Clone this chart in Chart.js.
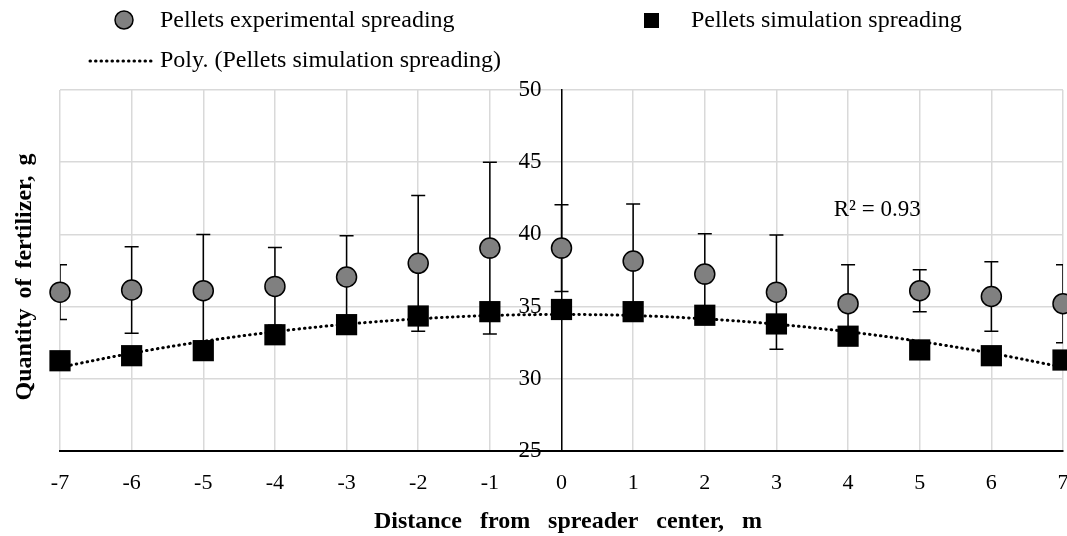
<!DOCTYPE html>
<html>
<head>
<meta charset="utf-8">
<script src="https://cdn.jsdelivr.net/npm/chart.js@4/dist/chart.umd.min.js"></script>
<style>
    html, body { margin: 0; background: #fff; overflow: hidden; }
    #wrap { width: 1067px; height: 536px; overflow: hidden; }
</style>
</head>
<body>
<div id="wrap"><canvas id="spreadChart" width="1078" height="536"></canvas></div>
<script>
// distance from spreader center, m
const distances = [-7, -6, -5, -4, -3, -2, -1, 0, 1, 2, 3, 4, 5, 6, 7];
// experimental spreading (mean) and its error (+/-)
const expValues = [36.0, 36.15, 36.1, 36.4, 37.05, 38.0, 39.05, 39.05, 38.15, 37.25, 36.0, 35.2, 36.1, 35.7, 35.2];
const expErrors = [1.9, 3.0, 3.9, 2.7, 2.85, 4.7, 5.95, 3.0, 3.95, 2.8, 3.95, 2.7, 1.45, 2.4, 2.7];
// simulation spreading
const simValues = [31.25, 31.6, 31.95, 33.05, 33.75, 34.35, 34.65, 34.8, 34.65, 34.4, 33.8, 32.95, 32.0, 31.6, 31.3];
// poly trendline
const polyValues = [30.8, 31.77, 32.59, 33.26, 33.78, 34.15, 34.38, 34.45, 34.38, 34.15, 33.78, 33.26, 32.59, 31.77, 30.8];
const yTicks = [25, 30, 35, 40, 45, 50];
const r2Label = "R\u00B2 = 0.93";
const r2At = { x: 3.8, y: 41.7 };
const xTitle = 'Distance from spreader center, m';
const yTitle = 'Quantity of fertilizer, g';

const serif = '"Liberation Serif", "Times New Roman", serif';
const gridColor = '#d9d9d9';

const toPoints = (vals) => vals.map((v, i) => ({ x: distances[i], y: v }));

const errorBars = {
    id: 'errorBars',
    beforeDatasetsDraw(chart) {
        const { ctx, chartArea, scales } = chart;
        ctx.save();
        ctx.beginPath();
        ctx.rect(chartArea.left, chartArea.top, chartArea.right - chartArea.left, chartArea.bottom - chartArea.top);
        ctx.clip();
        ctx.strokeStyle = '#000';
        ctx.lineWidth = 1.5;
        distances.forEach((d, i) => {
            const px = scales.x.getPixelForValue(d);
            const top = scales.y.getPixelForValue(expValues[i] + expErrors[i]);
            const bot = scales.y.getPixelForValue(expValues[i] - expErrors[i]);
            ctx.beginPath();
            ctx.moveTo(px, top); ctx.lineTo(px, bot);
            ctx.moveTo(px - 7, top); ctx.lineTo(px + 7, top);
            ctx.moveTo(px - 7, bot); ctx.lineTo(px + 7, bot);
            ctx.stroke();
        });
        ctx.restore();
    }
};

const extras = {
    id: 'extras',
    afterDraw(chart) {
        const { ctx, scales } = chart;

        // y tick labels, left of the centre axis
        const axisX = scales.x.getPixelForValue(0);
        ctx.save();
        ctx.fillStyle = '#000';
        ctx.font = '23px ' + serif;
        ctx.textAlign = 'right';
        ctx.textBaseline = 'middle';
        scales.y.ticks.forEach(t => {
            ctx.fillText(String(t.value), axisX - 20, scales.y.getPixelForValue(t.value));
        });
        ctx.restore();

        // axis titles
        ctx.save();
        ctx.fillStyle = '#000';
        ctx.font = 'bold 24px ' + serif;
        ctx.textAlign = 'center';
        ctx.textBaseline = 'middle';
        ctx.wordSpacing = '12px';
        ctx.fillText(xTitle, 568, 522);
        ctx.wordSpacing = '4px';
        ctx.translate(25, 277);
        ctx.rotate(-Math.PI / 2);
        ctx.fillText(yTitle, 0, 0);
        ctx.restore();

        // R2 annotation
        ctx.save();
        ctx.fillStyle = '#000';
        ctx.font = '23px ' + serif;
        ctx.textAlign = 'left';
        ctx.textBaseline = 'middle';
        ctx.fillText(r2Label, scales.x.getPixelForValue(r2At.x), scales.y.getPixelForValue(r2At.y));
        ctx.restore();

        // legend
        const ds = chart.data.datasets;
        ctx.save();
        ctx.font = '24px ' + serif;
        ctx.textAlign = 'left';
        ctx.textBaseline = 'middle';
        ctx.lineWidth = 1.5;
        ctx.beginPath();
        ctx.arc(124, 20, 9, 0, Math.PI * 2);
        ctx.fillStyle = ds[0].backgroundColor;
        ctx.fill();
        ctx.strokeStyle = ds[0].borderColor;
        ctx.stroke();
        ctx.fillStyle = '#000';
        ctx.fillText(ds[0].label, 160, 21);
        ctx.fillStyle = ds[1].backgroundColor;
        ctx.fillRect(644, 13, 15, 15);
        ctx.fillStyle = '#000';
        ctx.fillText(ds[1].label, 691, 21);
        ctx.beginPath();
        ctx.setLineDash(ds[2].borderDash);
        ctx.lineCap = 'round';
        ctx.lineWidth = ds[2].borderWidth;
        ctx.strokeStyle = ds[2].borderColor;
        ctx.moveTo(90, 61); ctx.lineTo(154, 61);
        ctx.stroke();
        ctx.setLineDash([]);
        ctx.fillText(ds[2].label, 160, 61);
        ctx.restore();
    }
};

new Chart(document.getElementById('spreadChart'), {
    type: 'scatter',
    data: {
        datasets: [
            {
                label: 'Pellets experimental spreading',
                data: toPoints(expValues),
                pointStyle: 'circle',
                pointRadius: 10,
                backgroundColor: '#808080',
                borderColor: '#000',
                borderWidth: 1.5,
                clip: false,
                order: 1
            },
            {
                label: 'Pellets simulation spreading',
                data: toPoints(simValues),
                pointStyle: 'rect',
                pointRadius: 15,
                backgroundColor: '#000',
                borderColor: '#000',
                borderWidth: 0,
                clip: false,
                order: 2
            },
            {
                label: 'Poly. (Pellets simulation spreading)',
                type: 'line',
                data: toPoints(polyValues),
                showLine: true,
                pointRadius: 0,
                borderColor: '#000',
                borderWidth: 3,
                borderDash: [0.5, 5],
                borderCapStyle: 'round',
                tension: 0.4,
                fill: false,
                order: 3
            }
        ]
    },
    options: {
        responsive: false,
        animation: false,
        layout: { padding: { left: 60, right: 4, top: 90, bottom: 0 } },
        plugins: { legend: { display: false }, tooltip: { enabled: false } },
        scales: {
            x: {
                type: 'linear',
                position: 'bottom',
                min: -7,
                max: 7,
                afterFit: (scale) => {
                    scale.paddingLeft = 0;
                    scale.paddingRight = 0;
                    scale.height = 85;
                },
                ticks: { stepSize: 1, padding: 19, color: '#000', font: { family: serif, size: 22 } },
                grid: { color: gridColor, lineWidth: 1.5, drawTicks: false },
                border: { color: '#000', width: 2 }
            },
            y: {
                type: 'linear',
                position: { x: 0 },
                min: yTicks[0],
                max: yTicks[yTicks.length - 1],
                afterBuildTicks: (scale) => { scale.ticks = yTicks.map(v => ({ value: v })); },
                ticks: { display: false },
                grid: { color: gridColor, lineWidth: 1.5, drawTicks: false },
                border: { color: '#000', width: 1.5 }
            }
        }
    },
    plugins: [errorBars, extras]
});
</script>
</body>
</html>
